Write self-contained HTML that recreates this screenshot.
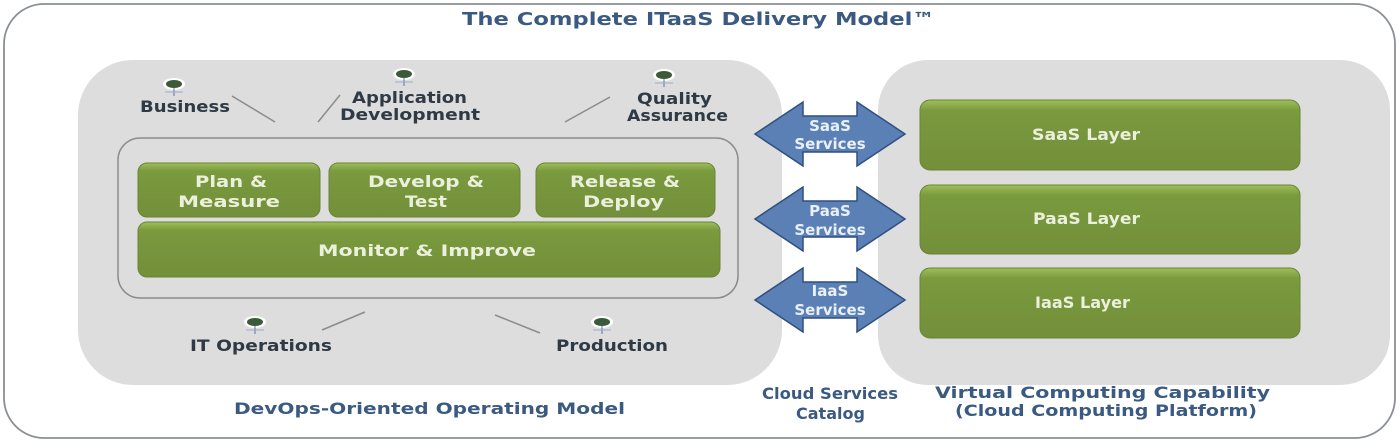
<!DOCTYPE html>
<html><head><meta charset="utf-8"><style>
body{margin:0;background:#fff;}
svg text{font-family:"DejaVu Sans","Liberation Sans",sans-serif;font-weight:bold;}
</style></head><body>
<svg width="1400" height="440" viewBox="0 0 1400 440" xmlns="http://www.w3.org/2000/svg">
<defs>
<linearGradient id="g" x1="0" y1="0" x2="0" y2="1">
<stop offset="0" stop-color="#9fbf5a"/><stop offset="0.15" stop-color="#7a9a3e"/><stop offset="1" stop-color="#738f3a"/>
</linearGradient>
</defs>
<rect x="4" y="4" width="1391" height="434" rx="40" fill="#fff" stroke="#8a8f96" stroke-width="1.8"/>
<text x="462" y="25" textLength="473" lengthAdjust="spacingAndGlyphs" font-size="18" fill="#3b5a82">The Complete ITaaS Delivery Model™</text>
<rect x="78" y="60" width="704" height="325" rx="55" fill="#dcdddc"/>
<rect x="118" y="138" width="620" height="160" rx="22" fill="none" stroke="#8a8d8a" stroke-width="1.5"/>
<g stroke="#6a8434" stroke-width="1">
<rect x="138" y="163" width="182" height="54" rx="9" fill="url(#g)"/>
<rect x="329" y="163" width="191" height="54" rx="9" fill="url(#g)"/>
<rect x="536" y="163" width="179" height="54" rx="9" fill="url(#g)"/>
<rect x="138" y="222" width="582" height="55" rx="9" fill="url(#g)"/>
</g>
<g fill="#eaf0dc" font-size="16">
<text x="195" y="187" textLength="72" lengthAdjust="spacingAndGlyphs">Plan &amp;</text><text x="178" y="207" textLength="102" lengthAdjust="spacingAndGlyphs">Measure</text>
<text x="368" y="187" textLength="116" lengthAdjust="spacingAndGlyphs">Develop &amp;</text><text x="405" y="207" textLength="42" lengthAdjust="spacingAndGlyphs">Test</text>
<text x="570" y="187" textLength="110" lengthAdjust="spacingAndGlyphs">Release &amp;</text><text x="583" y="207" textLength="81" lengthAdjust="spacingAndGlyphs">Deploy</text>
<text x="318" y="256" textLength="218" lengthAdjust="spacingAndGlyphs">Monitor &amp; Improve</text>
</g>
<g fill="#2e3a45" font-size="16">
<text x="140" y="112" textLength="90" lengthAdjust="spacingAndGlyphs">Business</text>
<text x="352" y="103" textLength="115" lengthAdjust="spacingAndGlyphs">Application</text><text x="340" y="120" textLength="140" lengthAdjust="spacingAndGlyphs">Development</text>
<text x="637" y="104" textLength="75" lengthAdjust="spacingAndGlyphs">Quality</text><text x="627" y="121" textLength="101" lengthAdjust="spacingAndGlyphs">Assurance</text>
<text x="190" y="351" textLength="142" lengthAdjust="spacingAndGlyphs">IT  Operations</text>
<text x="556" y="351" textLength="112" lengthAdjust="spacingAndGlyphs">Production</text>
<text x="234" y="414" textLength="391" lengthAdjust="spacingAndGlyphs" fill="#3b5a82">DevOps-Oriented Operating Model</text>
<text x="762" y="399" textLength="136" lengthAdjust="spacingAndGlyphs" fill="#3b5a82">Cloud Services</text>
<text x="796" y="419" fill="#3b5a82" font-size="16">Catalog</text>
<text x="935" y="398" textLength="335" lengthAdjust="spacingAndGlyphs" fill="#3b5a82">Virtual Computing Capability</text>
<text x="955" y="416" textLength="302" lengthAdjust="spacingAndGlyphs" font-weight="normal" fill="#3b5a82">(Cloud Computing Platform)</text>
</g>
<g stroke="#8a8d8a" stroke-width="1.5">
<line x1="232" y1="96" x2="275" y2="122"/>
<line x1="318" y1="122" x2="340" y2="95"/>
<line x1="565" y1="122" x2="610" y2="97"/>
<line x1="322" y1="330" x2="365" y2="312"/>
<line x1="495" y1="315" x2="540" y2="333"/>
</g>
<g>
<g transform="translate(174,84)"><ellipse rx="11" ry="6" fill="#fff"/><ellipse rx="8" ry="4" fill="#3a5a3a"/><line x1="0" y1="4" x2="0" y2="12" stroke="#5577aa"/><line x1="-9" y1="8" x2="9" y2="8" stroke="#99aacc"/></g>
<g transform="translate(404,74)"><ellipse rx="11" ry="6" fill="#fff"/><ellipse rx="8" ry="4" fill="#3a5a3a"/><line x1="0" y1="4" x2="0" y2="12" stroke="#5577aa"/><line x1="-9" y1="8" x2="9" y2="8" stroke="#99aacc"/></g>
<g transform="translate(664,75)"><ellipse rx="11" ry="6" fill="#fff"/><ellipse rx="8" ry="4" fill="#3a5a3a"/><line x1="0" y1="4" x2="0" y2="12" stroke="#5577aa"/><line x1="-9" y1="8" x2="9" y2="8" stroke="#99aacc"/></g>
<g transform="translate(255,322)"><ellipse rx="11" ry="6" fill="#fff"/><ellipse rx="8" ry="4" fill="#3a5a3a"/><line x1="0" y1="4" x2="0" y2="12" stroke="#5577aa"/><line x1="-9" y1="8" x2="9" y2="8" stroke="#99aacc"/></g>
<g transform="translate(602,322)"><ellipse rx="11" ry="6" fill="#fff"/><ellipse rx="8" ry="4" fill="#3a5a3a"/><line x1="0" y1="4" x2="0" y2="12" stroke="#5577aa"/><line x1="-9" y1="8" x2="9" y2="8" stroke="#99aacc"/></g>
</g>
<rect x="878" y="60" width="512" height="325" rx="50" fill="#dcdddc"/>
<g stroke="#6a8434" stroke-width="1">
<rect x="920" y="100" width="380" height="70" rx="10" fill="url(#g)"/>
<rect x="920" y="185" width="380" height="69" rx="10" fill="url(#g)"/>
<rect x="920" y="268" width="380" height="70" rx="10" fill="url(#g)"/>
</g>
<g fill="#eaf0dc" font-size="16">
<text x="1032" y="140" textLength="108" lengthAdjust="spacingAndGlyphs">SaaS Layer</text>
<text x="1033" y="224" textLength="107" lengthAdjust="spacingAndGlyphs">PaaS Layer</text>
<text x="1035" y="308" textLength="95" lengthAdjust="spacingAndGlyphs">IaaS Layer</text>
</g>
<g fill="#5b80b5" stroke="#2f4f80" stroke-width="1.5">
<path d="M755,134 L803,102 L803,116 L857,116 L857,102 L905,134 L857,166 L857,152 L803,152 L803,166 Z"/>
<path d="M755,219 L803,187 L803,201 L857,201 L857,187 L905,219 L857,251 L857,237 L803,237 L803,251 Z"/>
<path d="M755,300 L803,268 L803,282 L857,282 L857,268 L905,300 L857,332 L857,318 L803,318 L803,332 Z"/>
</g>
<g fill="#eaf0f8" font-size="15" text-anchor="middle">
<text x="830" y="131">SaaS</text><text x="830" y="149">Services</text>
<text x="830" y="216">PaaS</text><text x="830" y="235">Services</text>
<text x="830" y="296">IaaS</text><text x="830" y="315">Services</text>
</g>
</svg>
</body></html>
